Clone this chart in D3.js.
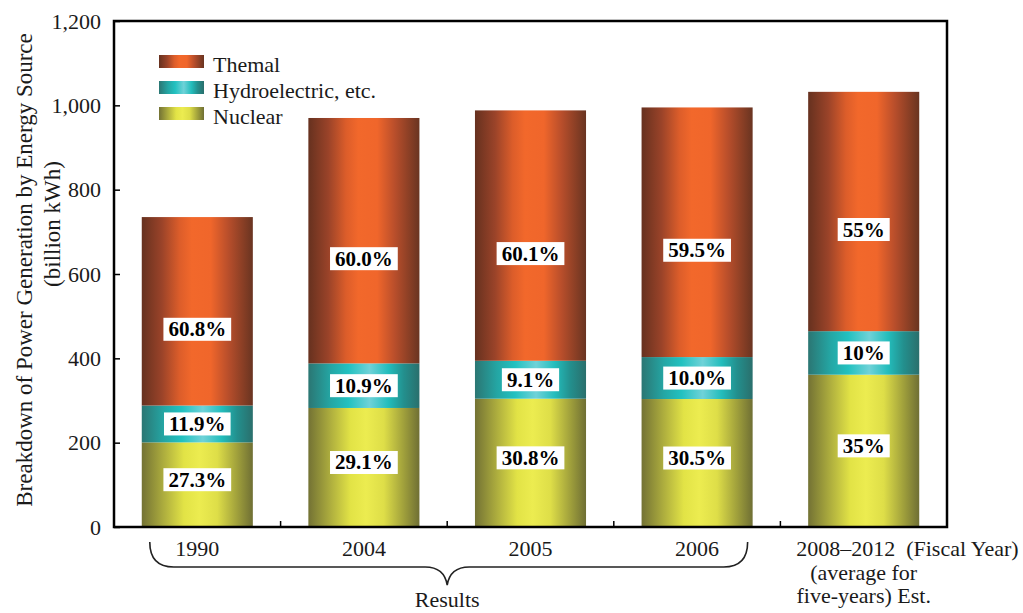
<!DOCTYPE html>
<html>
<head>
<meta charset="utf-8">
<script src="https://cdn.jsdelivr.net/npm/d3@7"></script>
<style>
  html, body { margin: 0; padding: 0; background: #fff; }
  svg { display: block; }
  text { font-family: "Liberation Serif", "DejaVu Serif", serif; fill: #1a1a1a; }
</style>
</head>
<body>
<svg id="chart" width="1023" height="613"></svg>
<script>
// Fiscal-year categories
const categories = ["1990", "2004", "2005", "2006", "2008–2012"];
// Total generation per category (billion kWh)
const totals = [735, 970, 988, 995, 1032];
// Share of each energy source (%)
const nuclearShare = [27.3, 29.1, 30.8, 30.5, 35];
const hydroShare = [11.9, 10.9, 9.1, 10.0, 10];
const thermalShare = [60.8, 60.0, 60.1, 59.5, 55];
// Printed share labels
const nuclearLabels = ["27.3%", "29.1%", "30.8%", "30.5%", "35%"];
const hydroLabels = ["11.9%", "10.9%", "9.1%", "10.0%", "10%"];
const thermalLabels = ["60.8%", "60.0%", "60.1%", "59.5%", "55%"];
// Axis ticks
const yTicks = [0, 200, 400, 600, 800, 1000, 1200];

const W = 1023, H = 613;
const margin = { top: 21, right: 76, bottom: 86, left: 114 };
const innerW = W - margin.left - margin.right;
const innerH = H - margin.top - margin.bottom;

const svg = d3.select("#chart");
const defs = svg.append("defs");

// Cylinder-like horizontal gradients for each source
const gradients = {
  thermal: [[0, "#66311f"], [0.18, "#9a4329"], [0.34, "#dc5d2a"], [0.45, "#f2682b"], [0.62, "#f0662b"], [0.78, "#b84e2b"], [1, "#693421"]],
  hydro: [[0, "#2b7673"], [0.2, "#24a6a4"], [0.36, "#22c1c0"], [0.55, "#6fd2d8"], [0.72, "#23bdbc"], [0.86, "#238f8d"], [1, "#2a6f6c"]],
  nuclear: [[0, "#737234"], [0.2, "#aeae3e"], [0.38, "#e2e346"], [0.52, "#ecec50"], [0.68, "#dede48"], [0.85, "#a3a33c"], [1, "#6f6f34"]]
};
Object.entries(gradients).forEach(([key, stops]) => {
  const g = defs.append("linearGradient")
    .attr("id", "grad-" + key)
    .attr("x1", "0%").attr("x2", "100%").attr("y1", "0%").attr("y2", "0%");
  stops.forEach(([o, c]) => g.append("stop").attr("offset", o).attr("stop-color", c));
});

const g = svg.append("g").attr("transform", `translate(${margin.left},${margin.top})`);

const x = d3.scaleBand().domain(categories).range([0, innerW]).paddingInner(1 / 3).paddingOuter(1 / 6);
const y = d3.scaleLinear().domain([0, 1200]).range([innerH, 0]);

// Build stacked segments from totals and shares
const rows = categories.map((c, i) => {
  const nuc = totals[i] * nuclearShare[i] / 100;
  const hyd = totals[i] * hydroShare[i] / 100;
  const thr = totals[i] * thermalShare[i] / 100;
  return { cat: c, nuclear: nuc, hydro: hyd, thermal: thr };
});
const keys = ["nuclear", "hydro", "thermal"];
const stacked = d3.stack().keys(keys)(rows);
const labelSets = { nuclear: nuclearLabels, hydro: hydroLabels, thermal: thermalLabels };
const labelShift = { nuclear: -5, hydro: 0, thermal: 18 };

// Bars
stacked.forEach(layer => {
  g.append("g").selectAll("rect")
    .data(layer)
    .join("rect")
    .attr("x", d => x(d.data.cat))
    .attr("width", x.bandwidth())
    .attr("y", d => y(d[1]))
    .attr("height", d => y(d[0]) - y(d[1]))
    .attr("fill", `url(#grad-${layer.key})`);
});

// Share labels in white boxes
stacked.forEach(layer => {
  const lg = g.append("g");
  layer.forEach((d, i) => {
    const cx = x(d.data.cat) + x.bandwidth() / 2;
    const cy = (y(d[0]) + y(d[1])) / 2 + labelShift[layer.key];
    const grp = lg.append("g");
    const t = grp.append("text")
      .attr("x", cx).attr("y", cy)
      .attr("text-anchor", "middle")
      .attr("dominant-baseline", "central")
      .style("font-size", "21px")
      .style("font-weight", "bold")
      .style("fill", "#000")
      .text(labelSets[layer.key][i]);
    const bb = t.node().getBBox();
    grp.insert("rect", "text")
      .attr("x", bb.x - 5).attr("y", cy - 11.5)
      .attr("width", bb.width + 10).attr("height", 23)
      .attr("fill", "#fff");
  });
});

// Y axis with inward ticks
const yAxis = g.append("g")
  .call(d3.axisLeft(y).tickValues(yTicks).tickFormat(d3.format(",")).tickSize(-6).tickPadding(13));
yAxis.select(".domain").remove();
yAxis.selectAll(".tick line").attr("stroke", "#000").attr("stroke-width", 1.5);
yAxis.selectAll(".tick text")
  .style("font-size", "22px")
  .style("font-family", "'Liberation Serif', serif")
  .attr("fill", "#1a1a1a");

// Separator ticks between categories
const seps = categories.slice(1).map(c => x(c) - x.step() * x.paddingInner() / 2);
g.append("g").selectAll("line")
  .data(seps)
  .join("line")
  .attr("x1", d => d).attr("x2", d => d)
  .attr("y1", innerH).attr("y2", innerH - 6)
  .attr("stroke", "#000").attr("stroke-width", 1.5);

// Plot frame
g.append("rect")
  .attr("x", 0).attr("y", 0)
  .attr("width", innerW).attr("height", innerH)
  .attr("fill", "none").attr("stroke", "#000").attr("stroke-width", 2.5);

// Category labels
const xl = g.append("g").style("font-size", "22px");
categories.forEach((c, i) => {
  const cx = x(c) + x.bandwidth() / 2;
  if (i < categories.length - 1) {
    xl.append("text").attr("x", cx).attr("y", innerH + 29)
      .attr("text-anchor", "middle").text(c);
  } else {
    xl.append("text").attr("x", x(c) - 12).attr("y", innerH + 29)
      .attr("text-anchor", "start").attr("xml:space", "preserve")
      .text(c + "  (Fiscal Year)");
    xl.append("text").attr("x", cx).attr("y", innerH + 53)
      .attr("text-anchor", "middle").text("(average for");
    xl.append("text").attr("x", cx).attr("y", innerH + 76)
      .attr("text-anchor", "middle").text("five-years) Est.");
  }
});

// Brace grouping the actual results
const bx0 = x(categories[0]) + 8, bx1 = x(categories[3]) + x.bandwidth() - 5;
const bmid = seps[1];
const by0 = innerH + 15, by1 = innerH + 40, by2 = innerH + 58;
const brace = d3.path();
brace.moveTo(bx0, by0);
brace.quadraticCurveTo(bx0, by1, bx0 + 24, by1);
brace.lineTo(bmid - 22, by1);
brace.quadraticCurveTo(bmid - 3, by1, bmid, by2);
brace.quadraticCurveTo(bmid + 3, by1, bmid + 22, by1);
brace.lineTo(bx1 - 24, by1);
brace.quadraticCurveTo(bx1, by1, bx1, by0);
g.append("path").attr("d", brace.toString())
  .attr("fill", "none").attr("stroke", "#222").attr("stroke-width", 1.6);
g.append("text").attr("x", bmid).attr("y", innerH + 80)
  .attr("text-anchor", "middle").style("font-size", "22px").text("Results");

// Y axis title
const yt = svg.append("g").style("font-size", "23px");
yt.append("text")
  .attr("transform", "translate(32,270) rotate(-90)")
  .attr("text-anchor", "middle")
  .text("Breakdown of Power Generation by Energy Source");
yt.append("text")
  .attr("transform", "translate(60,224) rotate(-90)")
  .attr("text-anchor", "middle")
  .text("(billion kWh)");

// Legend
const legendItems = [["thermal", "Themal"], ["hydro", "Hydroelectric, etc."], ["nuclear", "Nuclear"]];
const lgd = svg.append("g").attr("transform", "translate(159,55)");
legendItems.forEach(([k, label], i) => {
  lgd.append("rect").attr("x", 0).attr("y", i * 26).attr("width", 45).attr("height", 13)
    .attr("fill", `url(#grad-${k})`);
  lgd.append("text").attr("x", 54).attr("y", i * 26 + 17)
    .style("font-size", "22px").text(label);
});
</script>
</body>
</html>
